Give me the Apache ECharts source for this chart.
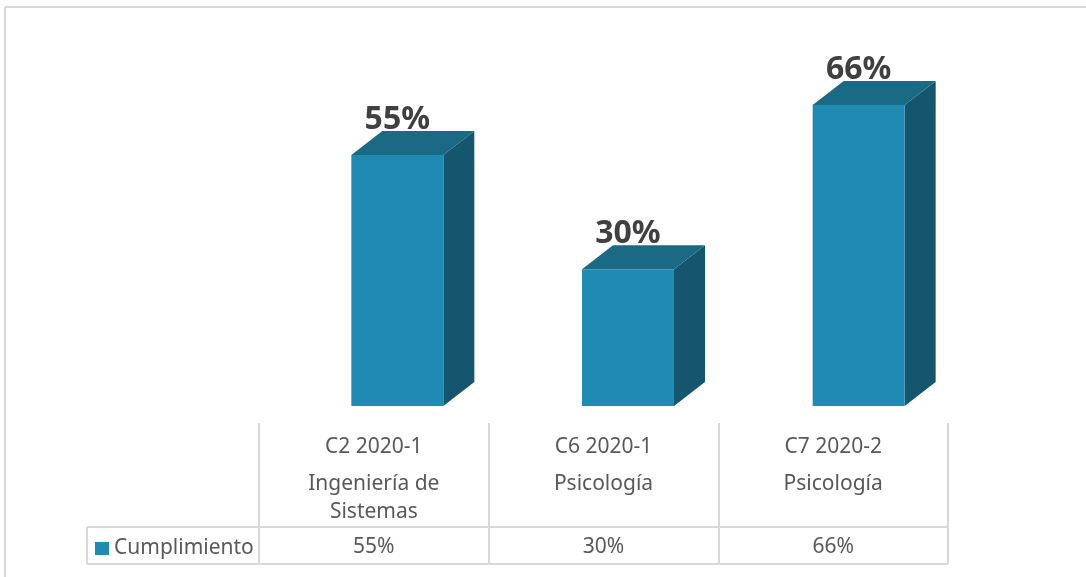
<!DOCTYPE html>
<html>
<head>
<meta charset="utf-8">
<script src="https://cdn.jsdelivr.net/npm/echarts@6/dist/echarts.min.js"></script>
<style>
  html, body { margin: 0; padding: 0; background: #fff; }
  #chart { width: 1086px; height: 577px; }
</style>
</head>
<body>
<div id="chart"></div>
<script>
// datos
const cohortes = ['C2 2020-1', 'C6 2020-1', 'C7 2020-2']
const programas = [['Ingeniería de', 'Sistemas'], ['Psicología'], ['Psicología']]
const cumplimiento = [55, 30, 66]
const serieNombre = 'Cumplimiento'

const colorFrente = '#1f8bb2'
const colorTapa = '#1a6985'
const colorLado = '#14566d'
const colorLinea = '#d9d9d9'
const colorTexto = '#595959'

const ANCHO = 92   // ancho cara frontal
const DX = 31      // profundidad en x
const DY = 24      // profundidad en y

const myChart = echarts.init(document.getElementById('chart'))

const renderBarra3D = (params, api) => {
    const idx = api.value(0)
    const val = api.value(1)
    const base = api.coord([idx, 0])
    const tope = api.coord([idx, val])
    const x0 = base[0] - ANCHO / 2
    const x1 = base[0] + ANCHO / 2
    const yb = base[1]
    const yt = tope[1]
    return {
        type: 'group',
        children: [
            {
                type: 'polygon',
                shape: { points: [[x1, yt], [x1 + DX, yt - DY], [x1 + DX, yb - DY], [x1, yb]] },
                style: { fill: colorLado }
            },
            {
                type: 'polygon',
                shape: { points: [[x0, yt], [x0 + DX, yt - DY], [x1 + DX, yt - DY], [x1, yt]] },
                style: { fill: colorTapa }
            },
            {
                type: 'rect',
                shape: { x: x0, y: yt, width: ANCHO, height: yb - yt },
                style: { fill: colorFrente }
            },
            {
                type: 'text',
                x: base[0],
                y: yt - 35,
                style: {
                    text: val + '%',
                    fill: '#404040',
                    font: 'bold 32px "Noto Sans"',
                    align: 'center',
                    verticalAlign: 'middle'
                }
            }
        ]
    }
}

// encabezados de la tabla
const encabezado = cohortes.map((c, i) => '{a|' + c + '}\n' + programas[i].map(p => '{b|' + p + '}').join('\n'))

const options = {
    animation: false,
    textStyle: { fontFamily: '"Noto Sans", sans-serif' },
    legend: {
        data: [{ name: serieNombre, icon: 'rect' }],
        left: 95,
        top: 538,
        padding: 0,
        itemWidth: 14,
        itemHeight: 13,
        itemGap: 5,
        textStyle: { fontSize: 21, color: colorTexto, lineHeight: 13 }
    },
    grid: [
        { left: 282, right: 112, top: 41, bottom: 171 },
        { left: 259, right: 138, top: 423, bottom: 13 }
    ],
    xAxis: [
        {
            type: 'category',
            gridIndex: 0,
            data: cohortes,
            show: false
        },
        {
            type: 'category',
            gridIndex: 1,
            position: 'top',
            data: encabezado,
            axisLine: { show: false, onZero: false },
            axisTick: { show: false },
            splitLine: {
                show: true,
                interval: 0,
                lineStyle: { color: colorLinea, width: 2 }
            },
            axisLabel: {
                inside: true,
                margin: 2,
                interval: 0,
                color: colorTexto,
                fontSize: 21,
                rich: {
                    a: { fontSize: 21, lineHeight: 45, color: colorTexto },
                    b: { fontSize: 21, lineHeight: 28, color: colorTexto }
                }
            }
        },
        {
            type: 'category',
            gridIndex: 1,
            position: 'bottom',
            data: cumplimiento.map(v => v + '%'),
            axisLine: { show: false, onZero: false },
            axisTick: { show: false },
            axisLabel: {
                inside: true,
                margin: 6,
                interval: 0,
                color: colorTexto,
                fontSize: 21
            }
        }
    ],
    yAxis: [
        { type: 'value', gridIndex: 0, min: 0, max: 80, show: false },
        { type: 'value', gridIndex: 1, min: 0, max: 1, show: false }
    ],
    series: [
        {
            name: serieNombre,
            type: 'custom',
            xAxisIndex: 0,
            yAxisIndex: 0,
            itemStyle: { color: colorFrente },
            renderItem: renderBarra3D,
            encode: { x: 0, y: 1 },
            data: cumplimiento.map((v, i) => [i, v])
        }
    ],
    graphic: [
        // borde exterior
        { type: 'line', shape: { x1: 5, y1: 7, x2: 1086, y2: 7 }, style: { stroke: colorLinea, lineWidth: 2 } },
        { type: 'line', shape: { x1: 5, y1: 7, x2: 5, y2: 577 }, style: { stroke: colorLinea, lineWidth: 2 } },
        // lineas de la tabla
        { type: 'line', shape: { x1: 87, y1: 527, x2: 948, y2: 527 }, style: { stroke: colorLinea, lineWidth: 2 } },
        { type: 'line', shape: { x1: 87, y1: 564, x2: 948, y2: 564 }, style: { stroke: colorLinea, lineWidth: 2 } },
        { type: 'line', shape: { x1: 87, y1: 527, x2: 87, y2: 564 }, style: { stroke: colorLinea, lineWidth: 2 } }
    ]
}

myChart.setOption(options)
</script>
</body>
</html>
